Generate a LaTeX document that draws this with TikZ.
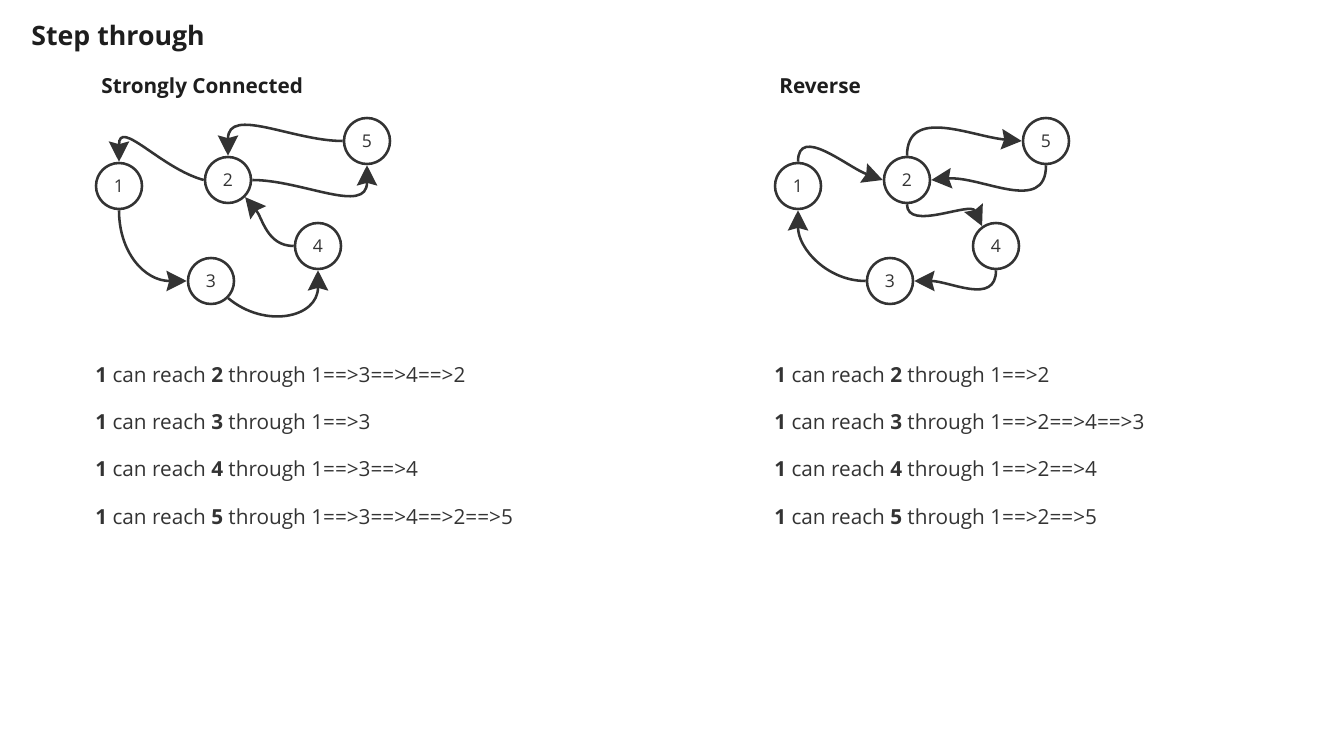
\documentclass[tikz,border=0pt]{standalone}
\usepackage{fontspec}
\setmainfont{Open Sans}
\usetikzlibrary{arrows.meta}
\definecolor{ink}{HTML}{333333}
\definecolor{head}{HTML}{1E1E1E}

\begin{document}
\begin{tikzpicture}[x=0.02cm, y=-0.02cm,
  vert/.style={draw=ink, circle, line width=1.45pt, minimum size=0.92cm,
    inner sep=0pt, text=ink, font=\fontsize{10}{11}\selectfont},
  edge/.style={draw=ink, line width=1.45pt,
    -{Stealth[length=11.5pt, width=11.5pt, inset=1.5pt]}},
  line/.style={anchor=west, inner sep=0pt, text=ink, font=\fontsize{11.8}{13}\selectfont},
  caption/.style={anchor=base west, inner sep=0pt, text=head, font=\bfseries\fontsize{11.8}{13}\selectfont}]
\useasboundingbox[fill=white] (0,0) rectangle (1333,749);

\def \dx {679} % shift of the reverse graph

\node[anchor=west, inner sep=0pt, text=head, font=\bfseries\fontsize{15.2}{17}\selectfont] (title) at (31,39) {Step through};
\node[caption] (capl) at (101,93.5) {Strongly Connected};
\node[caption] (capr) at (100+\dx,93.5) {Reverse};

% strongly connected
\node[vert] (l1) at (119,186) {1};
\node[vert] (l2) at (228,180) {2};
\node[vert] (l3) at (211,281) {3};
\node[vert] (l4) at (318,246) {4};
\node[vert] (l5) at (367,141) {5};

\draw[edge] (l2.west) to[out=165, in=90, looseness=1.3] (l1.north);
\draw[edge] (l5.west) to[out=180, in=90, looseness=1.1] (l2.north);
\draw[edge] (l2.east) to[out=0, in=-90, looseness=1.1] (l5.south);
\draw[edge] (l4.west) to[out=180, in=-50] (l2.south east);
\draw[edge] (l1.south) to[out=-90, in=180, looseness=1.1] (l3.west);
\draw[edge] (l3.south east) to[out=-40, in=-90, looseness=1.3] (l4.south);

% reverse
\node[vert] (r1) at (119+\dx,186) {1};
\node[vert] (r2) at (228+\dx,180) {2};
\node[vert] (r3) at (211+\dx,281) {3};
\node[vert] (r4) at (317+\dx,246) {4};
\node[vert] (r5) at (367+\dx,141) {5};

\draw[edge] (r1.north) to[out=90, in=160, looseness=1.1] (r2.west);
\draw[edge] (r2.north) to[out=90, in=175, looseness=1.1] (r5.west);
\draw[edge] (r5.south) to[out=-90, in=5, looseness=1.1] (r2.east);
\draw[edge] (r2.south) to[out=-90, in=115, looseness=0.9] (r4.125);
\draw[edge] (r4.south) to[out=-90, in=0, looseness=1.1] (r3.east);
\draw[edge] (r3.west) to[out=180, in=-90] (r1.south);

\foreach \t/\p [count=\i] in {2/1==>3==>4==>2, 3/1==>3, 4/1==>3==>4, 5/1==>3==>4==>2==>5}
{
  \node[line] (ll\i) at (95,377+47.3*\i-47.3) {\textbf{1} can reach \textbf{\t} through \p};
}
\foreach \t/\p [count=\i] in {2/1==>2, 3/1==>2==>4==>3, 4/1==>2==>4, 5/1==>2==>5}
{
  \node[line] (rl\i) at (95+\dx,377+47.3*\i-47.3) {\textbf{1} can reach \textbf{\t} through \p};
}
\end{tikzpicture}
\end{document}
